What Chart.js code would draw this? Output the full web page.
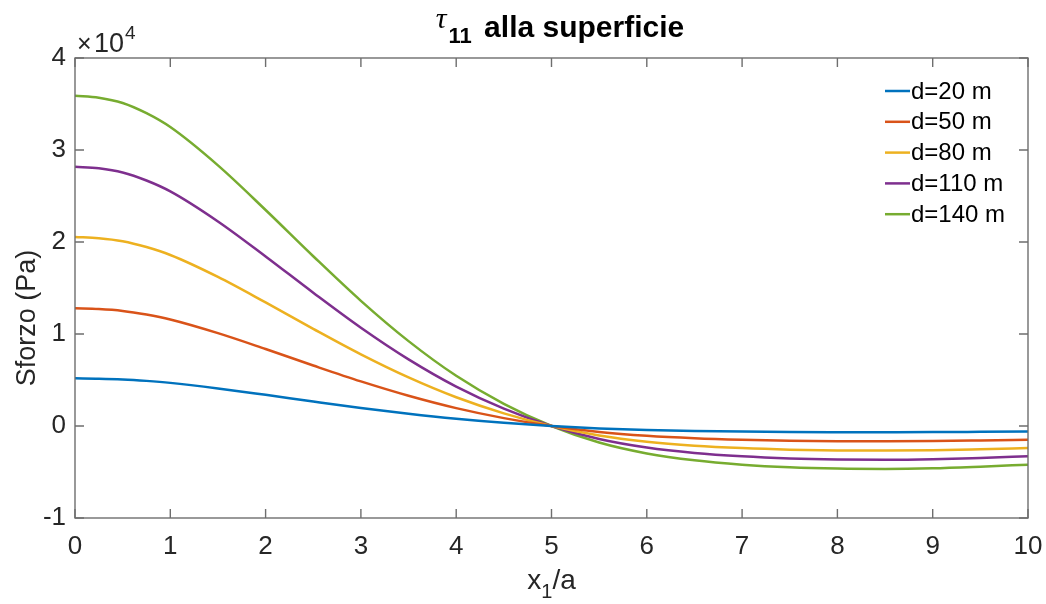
<!DOCTYPE html>
<html>
<head>
<meta charset="utf-8">
<script src="https://cdn.jsdelivr.net/npm/chart.js@4/dist/chart.umd.min.js"></script>
<style>
  html, body { margin: 0; padding: 0; background: #fff; }
  canvas { display: block; }
</style>
</head>
<body>
<canvas id="chart" width="1046" height="604"></canvas>
<script>
// x1/a sample positions (finer near the flat top)
const X_VALUES = [0, 0.25, 0.5, 0.75, 1, 1.5, 2, 2.5, 3, 3.5, 4, 4.5, 5, 5.5, 6, 6.5, 7, 7.5, 8, 8.5, 9, 9.5, 10];

// stress in Pa, one array per depth
const D20 = [5180, 5149, 5066, 4905, 4688, 4087, 3388, 2663, 1963, 1331, 787, 347, 0, -259, -430, -539, -606, -648, -668, -673, -663, -637, -606];
const D50 = [12790, 12713, 12509, 12112, 11575, 10091, 8365, 6574, 4847, 3287, 1944, 857, 0, -640, -1062, -1330, -1496, -1599, -1650, -1663, -1637, -1573, -1496];
const D80 = [20540, 20417, 20088, 19451, 18589, 16206, 13433, 10558, 7785, 5279, 3122, 1376, 0, -1027, -1705, -2136, -2403, -2568, -2650, -2670, -2629, -2526, -2403];
const D110 = [28180, 28011, 27560, 26686, 25503, 22234, 18430, 14485, 10680, 7242, 4283, 1888, 0, -1409, -2339, -2931, -3297, -3523, -3635, -3663, -3607, -3466, -3297];
const D140 = [35900, 35685, 35110, 33997, 32490, 28325, 23479, 18453, 13606, 9226, 5457, 2405, 0, -1795, -2980, -3734, -4200, -4488, -4631, -4667, -4595, -4416, -4200];

const SERIES_LABELS = ["d=20 m", "d=50 m", "d=80 m", "d=110 m", "d=140 m"];
const SERIES_COLORS = ["#0072BD", "#D95319", "#EDB120", "#7E2F8E", "#77AC30"];

const X_TICK_LABELS = ["0", "1", "2", "3", "4", "5", "6", "7", "8", "9", "10"];
const Y_TICK_LABELS = ["-1", "0", "1", "2", "3", "4"];

const FONT = "'Liberation Sans', Arial, Helvetica, sans-serif";
const TEXT_COLOR = "#262626";
const AXIS_COLOR = "#6e6e6e";

function drawParts(ctx, parts, centerX, baseline) {
  let total = 0;
  for (const p of parts) {
    ctx.font = p.font;
    p.w = ctx.measureText(p.text).width + (p.gap || 0);
    total += p.w;
  }
  let x = centerX - total / 2;
  ctx.textAlign = "left";
  ctx.textBaseline = "alphabetic";
  for (const p of parts) {
    ctx.font = p.font;
    ctx.fillText(p.text, x, baseline + (p.dy || 0));
    x += p.w;
  }
}

const decorations = {
  id: "decorations",
  afterDraw(chart) {
    const { ctx, chartArea: a, scales } = chart;
    const xs = scales.x, ys = scales.y;
    ctx.save();

    // axes box
    ctx.strokeStyle = AXIS_COLOR;
    ctx.lineWidth = 1.4;
    ctx.strokeRect(a.left, a.top, a.right - a.left, a.bottom - a.top);

    // inward ticks on all four sides
    ctx.beginPath();
    for (const t of xs.ticks) {
      const px = xs.getPixelForValue(t.value);
      ctx.moveTo(px, a.bottom); ctx.lineTo(px, a.bottom - 9);
      ctx.moveTo(px, a.top); ctx.lineTo(px, a.top + 9);
    }
    for (const t of ys.ticks) {
      const py = ys.getPixelForValue(t.value);
      ctx.moveTo(a.left, py); ctx.lineTo(a.left + 9, py);
      ctx.moveTo(a.right, py); ctx.lineTo(a.right - 9, py);
    }
    ctx.stroke();

    ctx.fillStyle = TEXT_COLOR;

    // exponent label
    ctx.textAlign = "left";
    ctx.textBaseline = "alphabetic";
    ctx.font = `25px ${FONT}`;
    ctx.fillText("\u00d7", a.left + 2, 52);
    ctx.font = `27px ${FONT}`;
    ctx.fillText("10", a.left + 19, 52);
    const expX = a.left + 19 + ctx.measureText("10").width + 1;
    ctx.font = `19px ${FONT}`;
    ctx.fillText("4", expX, 39);

    // title
    ctx.fillStyle = "#000";
    drawParts(ctx, [
      { text: "\u03c4", font: `italic 30px 'Liberation Serif', 'DejaVu Serif', serif`, dy: -9, gap: 2 },
      { text: "11", font: `bold 22px ${FONT}`, dy: 6, gap: 4 },
      { text: " alla superficie", font: `bold 30px ${FONT}` },
    ], 560, 37);

    // x label
    ctx.fillStyle = TEXT_COLOR;
    drawParts(ctx, [
      { text: "x", font: `28px ${FONT}` },
      { text: "1", font: `20px ${FONT}`, dy: 9 },
      { text: "/a", font: `28px ${FONT}` },
    ], (a.left + a.right) / 2, 589);

    // y label
    ctx.save();
    ctx.translate(28, 318);
    ctx.rotate(-Math.PI / 2);
    ctx.textAlign = "center";
    ctx.textBaseline = "middle";
    ctx.font = `27px ${FONT}`;
    ctx.fillText("Sforzo (Pa)", 0, 0);
    ctx.restore();

    // legend, inside top right, no box
    ctx.font = `24px ${FONT}`;
    ctx.textAlign = "left";
    ctx.textBaseline = "middle";
    ctx.lineWidth = 2.5;
    chart.data.datasets.forEach((ds, i) => {
      const yy = 91 + i * 30.8;
      ctx.strokeStyle = ds.borderColor;
      ctx.beginPath();
      ctx.moveTo(885, yy); ctx.lineTo(910, yy);
      ctx.stroke();
      ctx.fillStyle = "#000";
      ctx.fillText(ds.label, 911, yy + 1);
    });

    ctx.restore();
  },
};

const seriesValues = [D20, D50, D80, D110, D140];

new Chart(document.getElementById("chart"), {
  type: "line",
  data: {
    datasets: seriesValues.map((values, i) => ({
      label: SERIES_LABELS[i],
      data: values.map((v, j) => ({ x: X_VALUES[j], y: v })),
      borderColor: SERIES_COLORS[i],
      backgroundColor: SERIES_COLORS[i],
      borderWidth: 2.5,
      pointRadius: 0,
      cubicInterpolationMode: "monotone",
      fill: false,
    })),
  },
  options: {
    responsive: false,
    devicePixelRatio: 1,
    animation: false,
    layout: { padding: { left: 0, right: 18, top: 58, bottom: 0 } },
    plugins: { legend: { display: false }, title: { display: false }, tooltip: { enabled: false } },
    scales: {
      x: {
        type: "linear",
        min: 0,
        max: 10,
        afterFit: (scale) => {
          scale.height = 86;
          scale.paddingLeft = 0;
          scale.paddingRight = 0;
        },
        grid: { display: false, drawTicks: false },
        border: { display: false },
        ticks: {
          stepSize: 1,
          padding: 13,
          color: TEXT_COLOR,
          font: { family: FONT, size: 26 },
          maxRotation: 0,
          callback: (v) => X_TICK_LABELS[Math.round(v)] ?? "",
        },
      },
      y: {
        min: -10000,
        max: 40000,
        afterFit: (scale) => {
          scale.width = 75;
          scale.paddingTop = 0;
          scale.paddingBottom = 0;
        },
        grid: { display: false, drawTicks: false },
        border: { display: false },
        ticks: {
          stepSize: 10000,
          padding: 9,
          color: TEXT_COLOR,
          font: { family: FONT, size: 26 },
          callback: (v) => Y_TICK_LABELS[Math.round(v / 10000) + 1] ?? "",
        },
      },
    },
  },
  plugins: [decorations],
});
</script>
</body>
</html>
